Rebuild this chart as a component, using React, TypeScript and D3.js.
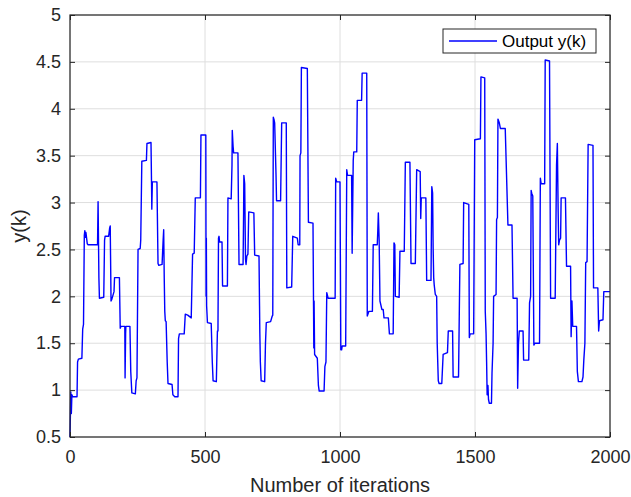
import React, { useEffect, useRef } from 'react';
import * as d3 from 'd3';

// breakpoints of the output signal
const iterations = [
  0, 3, 5, 7, 10, 26, 28, 31, 44, 47, 50, 53, 55, 57, 59, 64, 67, 102, 104, 107,
  109, 125, 128, 130, 143, 147, 149, 152, 155, 158, 163, 165, 183, 186, 189, 203, 204, 206, 207, 222,
  225, 229, 242, 245, 248, 252, 260, 262, 266, 283, 285, 300, 302, 303, 305, 322, 326, 329, 341, 345,
  347, 349, 351, 353, 356, 360, 363, 378, 381, 388, 400, 402, 405, 423, 427, 436, 449, 454, 460, 464,
  483, 485, 500, 503, 504, 505, 506, 509, 523, 527, 530, 542, 545, 546, 548, 550, 552, 554, 563, 565,
  583, 585, 597, 600, 601, 604, 606, 622, 626, 641, 643, 644, 647, 650, 652, 655, 659, 662, 681, 684,
  700, 702, 703, 705, 708, 721, 724, 727, 743, 749, 751, 753, 756, 758, 763, 765, 780, 784, 801, 803,
  821, 825, 842, 845, 851, 852, 855, 857, 879, 883, 900, 902, 903, 904, 906, 916, 920, 923, 941, 944,
  948, 951, 956, 982, 984, 988, 1000, 1003, 1006, 1008, 1021, 1025, 1028, 1043, 1045, 1049, 1051, 1062, 1064, 1080,
  1082, 1099, 1101, 1107, 1120, 1123, 1138, 1140, 1142, 1145, 1148, 1155, 1160, 1163, 1179, 1183, 1197, 1200, 1203, 1205,
  1219, 1222, 1238, 1242, 1259, 1263, 1279, 1284, 1297, 1299, 1301, 1318, 1321, 1337, 1340, 1343, 1345, 1347, 1349, 1353,
  1358, 1360, 1364, 1367, 1377, 1382, 1398, 1401, 1417, 1419, 1439, 1444, 1456, 1458, 1477, 1479, 1482, 1495, 1499, 1520,
  1522, 1536, 1538, 1541, 1543, 1545, 1548, 1550, 1553, 1561, 1563, 1567, 1569, 1578, 1580, 1583, 1585, 1590, 1594, 1612,
  1622, 1637, 1641, 1656, 1658, 1661, 1664, 1678, 1680, 1699, 1702, 1706, 1708, 1710, 1714, 1718, 1722, 1739, 1742, 1745,
  1758, 1760, 1776, 1780, 1797, 1802, 1805, 1808, 1810, 1813, 1817, 1819, 1835, 1839, 1854, 1856, 1859, 1862, 1876, 1879,
  1883, 1896, 1900, 1903, 1907, 1910, 1915, 1919, 1937, 1939, 1955, 1958, 1961, 1974, 1977, 2000,
];

const outputY = [
  0.5, 0.98, 0.75, 0.95, 0.93, 0.93, 1.3, 1.33, 1.34, 1.65, 1.7, 2.65, 2.7, 2.63, 2.68, 2.56, 2.55, 2.55, 3.01, 2.2,
  1.98, 1.99, 2.6, 2.64, 2.64, 2.73, 2.75, 1.95, 1.97, 2.0, 2.05, 2.2, 2.2, 1.66, 1.68, 1.68, 1.13, 1.6, 1.68, 1.68,
  1.2, 0.97, 0.96, 1.1, 1.13, 2.5, 2.51, 2.6, 3.44, 3.45, 3.63, 3.64, 3.2, 2.93, 3.22, 3.22, 2.35, 2.33, 2.34, 2.6,
  2.71, 2.2, 1.84, 1.74, 1.73, 1.3, 1.07, 1.06, 0.95, 0.93, 0.93, 1.55, 1.6, 1.6, 1.81, 1.8, 1.77, 2.45, 2.46, 3.05,
  3.05, 3.72, 3.72, 3.72, 2.0, 2.62, 1.9, 1.72, 1.71, 1.3, 1.1, 1.09, 1.5, 1.63, 1.63, 2.62, 2.64, 2.58, 2.58, 2.11,
  2.11, 3.05, 3.04, 3.4, 3.77, 3.6, 3.53, 3.53, 2.34, 2.34, 2.9, 3.29, 3.2, 2.4, 2.34, 2.43, 2.45, 2.9, 2.89, 2.44,
  2.43, 1.9, 1.62, 1.3, 1.1, 1.09, 1.5, 1.72, 1.73, 1.79, 1.8, 3.91, 3.88, 3.85, 3.3, 3.02, 3.02, 3.85, 3.85, 2.09,
  2.1, 2.64, 2.62, 2.55, 2.55, 3.5, 3.53, 4.44, 4.43, 2.79, 2.78, 1.9, 1.45, 1.95, 1.38, 1.34, 1.05, 0.99, 0.99, 1.25,
  1.3, 2.04, 1.98, 1.98, 3.26, 3.22, 3.22, 1.43, 1.43, 1.47, 1.47, 3.35, 3.29, 3.29, 2.46, 3.45, 3.54, 3.54, 4.09, 4.09,
  4.38, 4.38, 1.79, 1.84, 1.84, 2.55, 2.55, 2.7, 2.89, 2.6, 1.95, 1.86, 1.86, 1.77, 1.77, 1.6, 1.6, 2.57, 2.55, 2.0,
  1.99, 2.48, 2.48, 3.43, 3.43, 2.35, 2.35, 3.35, 3.33, 2.83, 3.05, 3.05, 2.17, 2.17, 3.17, 3.1, 2.51, 2.2, 2.12, 2.02,
  2.0, 1.5, 1.1, 1.07, 1.07, 1.38, 1.4, 1.63, 1.63, 1.14, 1.14, 2.34, 2.35, 3.0, 2.98, 1.56, 1.6, 1.6, 3.67, 3.68,
  4.34, 4.33, 1.84, 1.6, 1.3, 0.95, 1.05, 0.9, 0.86, 0.86, 1.18, 1.5, 2.0, 2.02, 2.82, 2.84, 3.89, 3.85, 3.79, 3.79,
  2.76, 2.76, 1.98, 1.98, 1.02, 1.5, 1.63, 1.63, 1.32, 1.32, 1.93, 2.0, 3.13, 3.1, 3.07, 1.48, 1.5, 1.5, 3.26, 3.2,
  3.2, 4.52, 4.51, 1.98, 1.98, 3.4, 3.63, 2.9, 2.55, 2.6, 2.62, 3.05, 3.05, 2.32, 2.32, 1.57, 1.95, 1.68, 1.68, 1.2,
  1.09, 1.09, 1.14, 1.32, 1.5, 2.36, 2.37, 3.62, 3.61, 2.09, 2.09, 1.63, 1.74, 1.75, 2.05, 2.05,
];

const xTicks = [0, 500, 1000, 1500, 2000];
const yTicks = [0.5, 1, 1.5, 2, 2.5, 3, 3.5, 4, 4.5, 5];

const App = () => {
  const svgRef = useRef<SVGSVGElement>(null);
  const width = 631;
  const height = 497;

  useEffect(() => {
    const svg = d3.select(svgRef.current);
    svg.selectAll('*').remove();

    const margin = { top: 15, right: 21, bottom: 60, left: 70 };
    const innerWidth = width - margin.left - margin.right;
    const innerHeight = height - margin.top - margin.bottom;
    const axisColor = '#262626';
    const font = 'Liberation Sans, Arial, Helvetica, sans-serif';

    svg.append('rect').attr('width', width).attr('height', height).attr('fill', '#fff');

    const g = svg.append('g').attr('transform', `translate(${margin.left},${margin.top})`);

    const x = d3.scaleLinear().domain([0, 2000]).range([0, innerWidth]);
    const y = d3.scaleLinear().domain([0.5, 5]).range([innerHeight, 0]);

    // grid
    g.append('g')
      .selectAll('line')
      .data(xTicks)
      .enter()
      .append('line')
      .attr('x1', d => x(d)).attr('x2', d => x(d))
      .attr('y1', 0).attr('y2', innerHeight)
      .attr('stroke', '#dedede');
    g.append('g')
      .selectAll('line')
      .data(yTicks)
      .enter()
      .append('line')
      .attr('y1', d => y(d)).attr('y2', d => y(d))
      .attr('x1', 0).attr('x2', innerWidth)
      .attr('stroke', '#dedede');

    // signal
    const line = d3.line<number>()
      .x((d, i) => x(iterations[i]))
      .y(d => y(d));
    g.append('path')
      .datum(outputY)
      .attr('d', line)
      .attr('fill', 'none')
      .attr('stroke', '#0000ff')
      .attr('stroke-width', 1.4)
      .attr('stroke-linejoin', 'round');

    // axes (ticks inside, box on)
    const tickLen = 5;
    const styleAxis = (sel: any) => {
      sel.select('.domain').remove();
      sel.selectAll('line').attr('stroke', axisColor);
      sel.selectAll('text').attr('fill', axisColor).style('font-family', font).style('font-size', '18px');
    };
    g.append('g')
      .attr('transform', `translate(0,${innerHeight})`)
      .call(d3.axisBottom(x).tickValues(xTicks).tickSize(-tickLen).tickPadding(13).tickFormat(d3.format('d')))
      .call(styleAxis);
    g.append('g')
      .call(d3.axisTop(x).tickValues(xTicks).tickSize(-tickLen).tickFormat(() => ''))
      .call(styleAxis);
    g.append('g')
      .call(d3.axisLeft(y).tickValues(yTicks).tickSize(-tickLen).tickPadding(9).tickFormat(d3.format('~g')))
      .call(styleAxis);
    g.append('g')
      .attr('transform', `translate(${innerWidth},0)`)
      .call(d3.axisRight(y).tickValues(yTicks).tickSize(-tickLen).tickFormat(() => ''))
      .call(styleAxis);

    g.append('rect')
      .attr('width', innerWidth)
      .attr('height', innerHeight)
      .attr('fill', 'none')
      .attr('stroke', axisColor)
      .attr('stroke-width', 1.2);

    // labels
    g.append('text')
      .attr('x', innerWidth / 2)
      .attr('y', innerHeight + 55)
      .attr('text-anchor', 'middle')
      .attr('fill', axisColor)
      .style('font-family', font)
      .style('font-size', '20px')
      .text('Number of iterations');
    g.append('text')
      .attr('transform', 'rotate(-90)')
      .attr('x', -innerHeight / 2)
      .attr('y', -margin.left + 26)
      .attr('text-anchor', 'middle')
      .attr('fill', axisColor)
      .style('font-family', font)
      .style('font-size', '20px')
      .text('y(k)');

    // legend
    const legend = svg.append('g').attr('transform', 'translate(443,29)');
    legend.append('rect')
      .attr('width', 153)
      .attr('height', 24)
      .attr('fill', '#fff')
      .attr('stroke', axisColor)
      .attr('stroke-width', 1);
    legend.append('line')
      .attr('x1', 6).attr('x2', 54)
      .attr('y1', 12).attr('y2', 12)
      .attr('stroke', '#0000ff')
      .attr('stroke-width', 1.3);
    legend.append('text')
      .attr('x', 59)
      .attr('y', 18)
      .attr('fill', '#000')
      .style('font-family', font)
      .style('font-size', '17px')
      .text('Output y(k)');
  }, []);

  return (
    <div style={{ position: 'absolute', left: 0, top: 0 }}>
      <svg ref={svgRef} width={width} height={height} style={{ display: 'block' }}></svg>
    </div>
  );
};

export default App;
